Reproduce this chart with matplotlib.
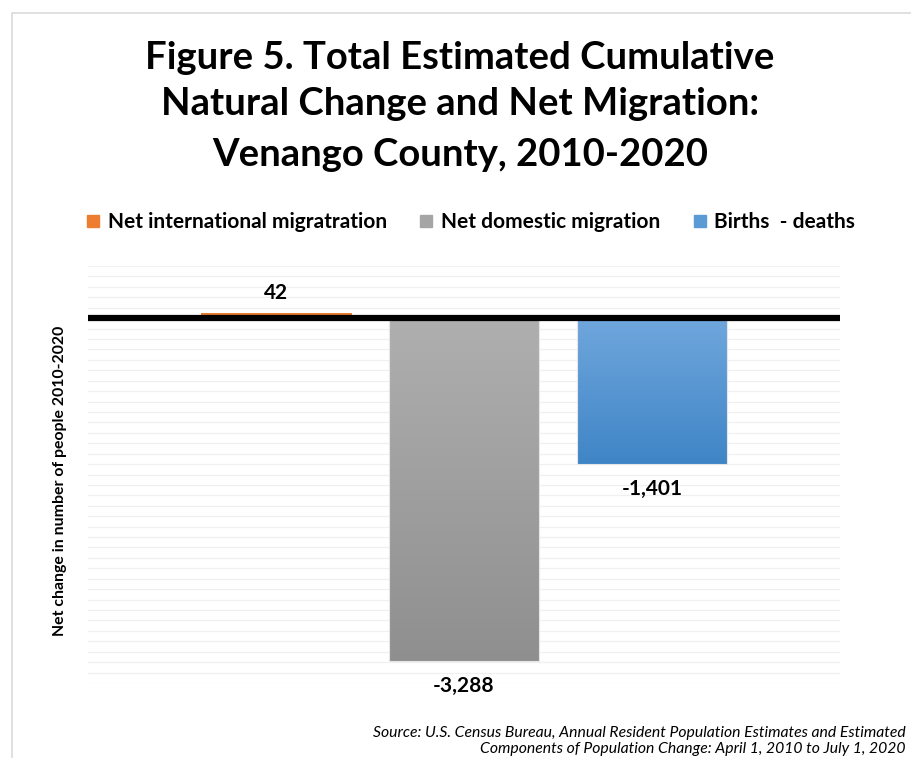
import matplotlib
matplotlib.use("Agg")
import matplotlib.pyplot as plt
import numpy as np
from matplotlib.colors import LinearSegmentedColormap
from matplotlib.patches import Rectangle
from matplotlib.lines import Line2D

# Donnees
series = ["Net international migratration", "Net domestic migration", "Births  - deaths"]
values = [42, -3288, -1401]
labels = ["42", "-3,288", "-1,401"]

# Couleurs (haut -> bas du degrade)
colors_top = ["#ED7D31", "#AFAFAF", "#70A7DD"]
colors_bot = ["#ED7D31", "#8F8F8F", "#3F85C6"]
legend_colors = ["#ED7D31", "#A5A5A5", "#5B9BD5"]

FONT = "Lato"

fig = plt.figure(figsize=(9.11, 7.58), dpi=100)
fig.patch.set_facecolor("white")

# cadre gris clair
fig.add_artist(Rectangle((12 / 911, -0.05), 1.0, 1 - 13 / 758 + 0.05,
                         transform=fig.transFigure, fill=False,
                         edgecolor="#DADADA", linewidth=1.2))

ax = fig.add_axes([88 / 911, 1 - 683 / 758, (840 - 88) / 911, (683 - 266) / 758])
ax.set_xlim(-1, 3)
ax.set_ylim(-3500, 500)

# grille fine
for yv in np.arange(-3500, 501, 100):
    ax.axhline(yv, color="#F0F0F0", linewidth=0.9, zorder=0)

x = np.arange(len(values))
bars = ax.bar(x, values, width=0.8, color="none", edgecolor="none", zorder=2)

for i, b in enumerate(bars):
    x0, w = b.get_x(), b.get_width()
    y0, h = b.get_y(), b.get_height()
    cmap = LinearSegmentedColormap.from_list("g%d" % i, [colors_bot[i], colors_top[i]])
    grad = np.linspace(0, 1, 256).reshape(-1, 1)
    if h < 0:
        ylo, yhi = y0 + h, y0
    else:
        ylo, yhi = y0, y0 + h
    ax.imshow(grad, cmap=cmap, origin="lower", aspect="auto",
              extent=[x0, x0 + w, ylo, yhi], zorder=2)
    if h < 0:
        ax.add_patch(Rectangle((x0, ylo), w, yhi - ylo, fill=False,
                               edgecolor="#E6E6E6", linewidth=0.8, zorder=3))

ax.set_xlim(-1, 3)
ax.set_ylim(-3500, 500)

# ligne zero epaisse
ax.axhline(0, color="black", linewidth=4.5, zorder=4)

# etiquettes de valeurs
for i, (v, lab) in enumerate(zip(values, labels)):
    if v >= 0:
        ax.text(x[i], v + 200, lab, ha="center", va="center",
                fontsize=15, fontweight="bold", family=FONT, zorder=5)
    else:
        ax.text(x[i], v - 240, lab, ha="center", va="center",
                fontsize=15, fontweight="bold", family=FONT, zorder=5)

for s in ax.spines.values():
    s.set_visible(False)
ax.set_xticks([])
ax.set_yticks([])

# titre de l'axe y
fig.text(60 / 911, 1 - 481 / 758, "Net change in number of people 2010-2020",
         rotation=90, ha="center", va="center", fontsize=11.4,
         fontweight="bold", family=FONT)

# titre
title_lines = ["Figure 5. Total Estimated Cumulative",
               "Natural Change and Net Migration:",
               "Venango County, 2010-2020"]
for k, ty in enumerate([58, 104, 155]):
    fig.text(460 / 911, 1 - ty / 758, title_lines[k], ha="center", va="center",
             fontsize=27.5, fontweight="bold", family=FONT)

# legende
handles = [Line2D([0], [0], marker="s", linestyle="none", markersize=9,
                  markerfacecolor=c, markeredgecolor=c) for c in legend_colors]
fig.legend(handles, series, loc="center", bbox_to_anchor=(470 / 911, 1 - 222 / 758),
           ncol=3, frameon=False, handletextpad=0.3, columnspacing=1.5,
           handlelength=0.8, prop={"family": FONT, "weight": "bold", "size": 15})

# source
fig.text(906 / 911, 1 - 733 / 758,
         "Source: U.S. Census Bureau, Annual Resident Population Estimates and Estimated",
         ha="right", va="center", fontsize=11.3, style="italic", family=FONT)
fig.text(906 / 911, 1 - 749 / 758,
         "Components of Population Change: April 1, 2010 to July 1, 2020",
         ha="right", va="center", fontsize=11.3, style="italic", family=FONT)

fig.savefig("out.png", dpi=100, facecolor="white")
